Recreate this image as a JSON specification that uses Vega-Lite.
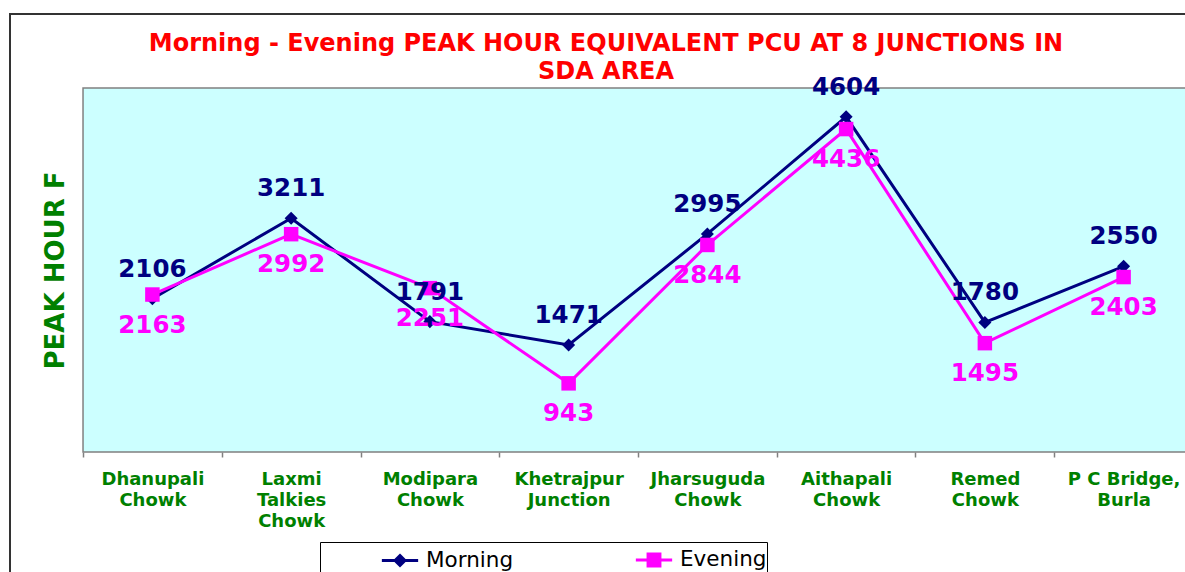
{
  "$schema": "https://vega.github.io/schema/vega-lite/v6.json",
  "width": 1256,
  "height": 586,
  "autosize": "none",
  "padding": {"left": 10, "top": 14, "right": 0, "bottom": 0},
  "background": "white",
  "title": {
    "text": ["Morning - Evening PEAK HOUR EQUIVALENT PCU AT 8 JUNCTIONS IN", "SDA AREA"],
    "font": "DejaVu Sans",
    "fontSize": 24,
    "fontWeight": "bold",
    "color": "#FF0000",
    "anchor": "middle",
    "frame": "group",
    "dx": -32,
    "dy": 70,
    "offset": 0,
    "lineHeight": 28
  },
  "data": {
    "values": [
      {"junction": "Dhanupali Chowk", "series": "Morning", "value": 2106},
      {"junction": "Laxmi Talkies Chowk", "series": "Morning", "value": 3211},
      {"junction": "Modipara Chowk", "series": "Morning", "value": 1791},
      {"junction": "Khetrajpur Junction", "series": "Morning", "value": 1471},
      {"junction": "Jharsuguda Chowk", "series": "Morning", "value": 2995},
      {"junction": "Aithapali Chowk", "series": "Morning", "value": 4604},
      {"junction": "Remed Chowk", "series": "Morning", "value": 1780},
      {"junction": "P C Bridge, Burla", "series": "Morning", "value": 2550},
      {"junction": "Dhanupali Chowk", "series": "Evening", "value": 2163},
      {"junction": "Laxmi Talkies Chowk", "series": "Evening", "value": 2992},
      {"junction": "Modipara Chowk", "series": "Evening", "value": 2251},
      {"junction": "Khetrajpur Junction", "series": "Evening", "value": 943},
      {"junction": "Jharsuguda Chowk", "series": "Evening", "value": 2844},
      {"junction": "Aithapali Chowk", "series": "Evening", "value": 4436},
      {"junction": "Remed Chowk", "series": "Evening", "value": 1495},
      {"junction": "P C Bridge, Burla", "series": "Evening", "value": 2403}
    ]
  },
  "layer": [
    {
      "data": {"values": [{"area": "plot"}]},
      "mark": {"type": "rect", "fill": "#CCFFFF", "stroke": "#808080", "strokeWidth": 1.5},
      "encoding": {
        "x": {"datum": 0, "type": "quantitative", "scale": {"domain": [-0.5263, 8.5263], "nice": false, "zero": false}, "axis": null},
        "x2": {"datum": 8},
        "y": {"datum": 0, "type": "quantitative", "title": "PEAK HOUR F", "scale": {"domain": [-2033, 6016.5], "nice": false, "zero": false}},
        "y2": {"datum": 5000}
      }
    },
    {
      "encoding": {
        "x": {"field": "junction", "type": "nominal", "sort": null, "title": null, "scale": {"type": "band", "paddingInner": 0, "paddingOuter": 0.5263}},
        "y": {"field": "value", "type": "quantitative", "title": "PEAK HOUR F", "scale": {"domain": [-2033, 6016.5], "nice": false, "zero": false}}
      },
      "layer": [
        {
          "mark": {"type": "line", "strokeWidth": 3},
          "encoding": {
            "color": {
              "field": "series",
              "type": "nominal",
              "scale": {"domain": ["Morning", "Evening"], "range": ["#000080", "#FF00FF"]},
              "legend": {
                "orient": "none",
                "legendX": 310,
                "legendY": 528,
                "direction": "horizontal",
                "title": null,
                "strokeColor": "#000000",
                "padding": 0,
                "symbolOffset": 62,
                "columnPadding": 60,
                "labelFont": "DejaVu Sans",
                "labelFontSize": 21.5,
                "labelColor": "#000000",
                "labelOffset": 8,
                "symbolSize": 1089,
                "symbolStrokeWidth": 3,
                "encode": {
                  "symbols": {
                    "update": {
                      "shape": {"signal": "datum.value === 'Morning' ? 'M-1.1,0H1.1M0,-0.3L0.3,0L0,0.3L-0.3,0Z' : 'M-1.1,0H1.1M-0.36,-0.36H0.36V0.36H-0.36Z'"},
                      "fill": {"signal": "datum.value === 'Morning' ? '#000080' : '#FF00FF'"},
                      "stroke": {"signal": "datum.value === 'Morning' ? '#000080' : '#FF00FF'"},
                      "strokeWidth": {"value": 3},
                      "size": {"value": 1089},
                      "opacity": {"value": 1}
                    }
                  }
                }
              }
            }
          }
        },
        {
          "transform": [{"filter": "datum.series == 'Morning'"}],
          "mark": {"type": "point", "filled": true, "opacity": 1, "shape": "diamond", "size": 170, "color": "#000080"}
        },
        {
          "transform": [{"filter": "datum.series == 'Evening'"}],
          "mark": {"type": "point", "filled": true, "opacity": 1, "shape": "square", "size": 210, "color": "#FF00FF"}
        },
        {
          "transform": [{"filter": "datum.series == 'Morning'"}],
          "mark": {"type": "text", "font": "DejaVu Sans", "fontWeight": "bold", "fontSize": 24.5, "color": "#000080", "dy": -29, "baseline": "middle", "align": "center"},
          "encoding": {"text": {"field": "value", "type": "quantitative", "format": "d"}}
        },
        {
          "transform": [{"filter": "datum.series == 'Evening'"}],
          "mark": {"type": "text", "font": "DejaVu Sans", "fontWeight": "bold", "fontSize": 24.5, "color": "#FF00FF", "dy": 31, "baseline": "middle", "align": "center"},
          "encoding": {"text": {"field": "value", "type": "quantitative", "format": "d"}}
        }
      ]
    }
  ],
  "resolve": {"scale": {"x": "independent"}, "axis": {"x": "independent"}},
  "config": {
    "view": {"stroke": "#333333", "strokeWidth": 2, "fill": "white"},
    "font": "DejaVu Sans",
    "axisX": {
      "orient": "bottom",
      "offset": -148,
      "domain": false,
      "grid": false,
      "ticks": true,
      "tickColor": "#808080",
      "tickSize": 5,
      "tickWidth": 1.5,
      "tickBand": "extent",
      "labelAngle": 0,
      "labelFont": "DejaVu Sans",
      "labelFontWeight": "bold",
      "labelFontSize": 18,
      "labelColor": "#008000",
      "labelPadding": 13,
      "labelLineHeight": 21,
      "labelBaseline": "top",
      "labelLimit": 300,
      "labelExpr": "datum.value == null ? '' : (datum.value == 'P C Bridge, Burla' ? ['P C Bridge,', 'Burla'] : split(datum.value, ' '))"
    },
    "axisY": {
      "labels": false,
      "ticks": false,
      "domain": false,
      "grid": false,
      "titleFont": "DejaVu Sans",
      "titleFontWeight": "bold",
      "titleFontSize": 26,
      "titleColor": "#008000",
      "titleX": 45,
      "titleY": 256,
      "titleAngle": -90,
      "titleAlign": "center",
      "titleBaseline": "middle"
    }
  }
}
